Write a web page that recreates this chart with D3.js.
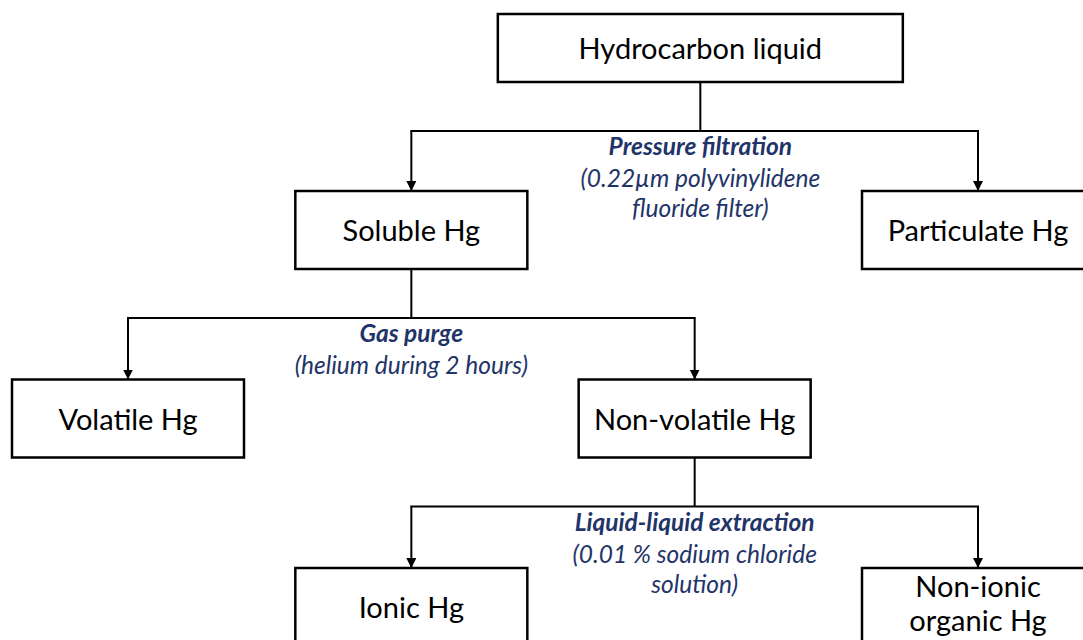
<!DOCTYPE html>
<html>
<head>
<meta charset="utf-8">
<script src="https://cdn.jsdelivr.net/npm/d3@7"></script>
<style>
  body { margin: 0; background: #fff; }
  svg { display: block; font-family: Lato, "Open Sans", sans-serif; }
</style>
</head>
<body>
<div id="chart"></div>
<script>
// flow data
const nodeNames = ["Hydrocarbon liquid", "Soluble Hg", "Particulate Hg", "Volatile Hg", "Non-volatile Hg", "Ionic Hg", "Non-ionic organic Hg"];
const nodeLines = [["Hydrocarbon liquid"], ["Soluble Hg"], ["Particulate Hg"], ["Volatile Hg"], ["Non-volatile Hg"], ["Ionic Hg"], ["Non-ionic", "organic Hg"]];
const nodeParents = [null, "Hydrocarbon liquid", "Hydrocarbon liquid", "Soluble Hg", "Soluble Hg", "Non-volatile Hg", "Non-volatile Hg"];
const stepParents = ["Hydrocarbon liquid", "Soluble Hg", "Non-volatile Hg"];
const stepTitles = ["Pressure filtration", "Gas purge", "Liquid-liquid extraction"];
const stepDetails = [["(0.22\u00b5m polyvinylidene", "fluoride filter)"], ["(helium during 2 hours)"], ["(0.01 % sodium chloride", "solution)"]];

// layout (grid slot of each node)
const nodeCol = [2.02, 1, 3, 0, 2, 1, 3];
const nodeRow = [0, 1, 1, 2, 2, 3, 3];

const width = 1083;
const height = 640;
const boxW = 232;
const topBoxW = 405;
const boxH = 78;
const topBoxH = 68;
const drop = 49;
const ink = "#000";
const noteColor = "#1f3468";

const x = d3.scaleLinear().domain([0, 3]).range([128, 978]);
const yTop = d3.scaleLinear().domain([1, 3]).range([191, 568]);

function boxOf(name) {
  const i = nodeNames.indexOf(name);
  const w = i === 0 ? topBoxW : boxW;
  const h = i === 0 ? topBoxH : boxH;
  const top = i === 0 ? 14 : yTop(nodeRow[i]);
  return { i, cx: x(nodeCol[i]), w, h, top, bottom: top + h };
}

const svg = d3.select("#chart").append("svg")
  .attr("width", width)
  .attr("height", height);

svg.append("defs").append("marker")
  .attr("id", "arrow")
  .attr("viewBox", "0 0 10 10")
  .attr("refX", 10).attr("refY", 5)
  .attr("markerWidth", 10).attr("markerHeight", 10)
  .attr("markerUnits", "userSpaceOnUse")
  .attr("orient", "auto")
  .append("path")
  .attr("d", "M0,0L10,5L0,10Z")
  .attr("fill", ink);

// connectors
const links = svg.append("g").attr("fill", "none").attr("stroke", ink).attr("stroke-width", 2);
stepParents.forEach((p) => {
  const pb = boxOf(p);
  const kids = nodeNames.filter((n, i) => nodeParents[i] === p).map(boxOf);
  const barY = pb.bottom + drop;
  links.append("line")
    .attr("x1", pb.cx).attr("x2", pb.cx)
    .attr("y1", pb.bottom).attr("y2", barY);
  links.append("line")
    .attr("x1", d3.min(kids, (k) => k.cx) - 1).attr("x2", d3.max(kids, (k) => k.cx) + 1)
    .attr("y1", barY).attr("y2", barY);
  kids.forEach((k) => {
    links.append("line")
      .attr("x1", k.cx).attr("x2", k.cx)
      .attr("y1", barY).attr("y2", k.top)
      .attr("marker-end", "url(#arrow)");
  });
});

// boxes
const boxes = svg.append("g").selectAll("g")
  .data(nodeNames.map(boxOf))
  .join("g");

boxes.append("rect")
  .attr("x", (d) => d.cx - d.w / 2)
  .attr("y", (d) => d.top)
  .attr("width", (d) => d.w)
  .attr("height", (d) => d.h)
  .attr("fill", "#fff")
  .attr("stroke", ink)
  .attr("stroke-width", 2.5);

boxes.each(function (d) {
  const lines = nodeLines[d.i];
  const lh = 34;
  const t = d3.select(this).append("text")
    .attr("text-anchor", "middle")
    .attr("font-size", 29)
    .attr("fill", ink);
  lines.forEach((s, j) => {
    const base = lines.length === 1 ? d.top + d.h / 2 + 11 : d.top + 29 + j * lh;
    t.append("tspan").attr("x", d.cx).attr("y", base).text(s);
  });
});

// step notes
stepParents.forEach((p, s) => {
  const pb = boxOf(p);
  const barY = pb.bottom + drop;
  const t = svg.append("text")
    .attr("text-anchor", "middle")
    .attr("font-size", 24.5)
    .attr("font-style", "italic")
    .attr("fill", noteColor);
  t.append("tspan")
    .attr("x", pb.cx).attr("y", barY + 24)
    .attr("font-weight", "bold")
    .text(stepTitles[s]);
  stepDetails[s].forEach((line, j) => {
    t.append("tspan")
      .attr("x", pb.cx).attr("y", barY + 56 + j * 30)
      .text(line);
  });
});
</script>
</body>
</html>
